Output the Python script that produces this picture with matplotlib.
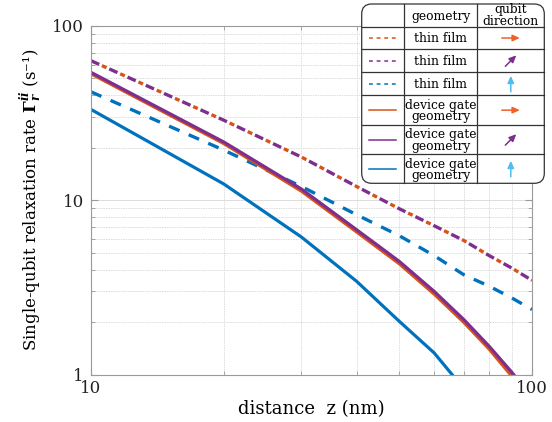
import numpy as np
import matplotlib
matplotlib.use("Agg")
from matplotlib import pyplot as plt
from matplotlib.patches import FancyBboxPatch, FancyArrowPatch
from matplotlib.lines import Line2D

# distances (nm)
distance = [10, 20, 30, 40, 50, 60, 70, 80, 90, 100]

# relaxation rates (1/s)
thin_film_x = [63.2, 28.8, 17.7, 12.0, 8.94, 7.14, 5.88, 4.81, 4.08, 3.47]
thin_film_xz = [63.2, 28.8, 17.7, 12.0, 8.94, 7.14, 5.88, 4.81, 4.08, 3.47]
thin_film_z = [41.9, 19.4, 12.0, 8.26, 6.26, 4.81, 3.74, 3.21, 2.75, 2.36]
gate_x = [53.3, 21.2, 11.3, 6.6, 4.33, 2.9, 2.0, 1.4, 0.98, 0.70]
gate_xz = [54.2, 21.6, 11.6, 6.78, 4.46, 3.0, 2.07, 1.45, 1.03, 0.74]
gate_z = [33.2, 12.4, 6.15, 3.43, 2.02, 1.33, 0.83, 0.55, 0.38, 0.27]

ORANGE = "#d95319"
PURPLE = "#7e2f8e"
BLUE = "#0072bd"
ARROW_ORANGE = "#f0602a"
ARROW_BLUE = "#4dbeee"
GRID = "#dcdcdc"
AXIS = "#9a9a9a"

SERIF = "DejaVu Serif"
plt.rcParams["font.family"] = [SERIF]
plt.rcParams["mathtext.fontset"] = "dejavuserif"

W, H = 552, 422
fig = plt.figure(figsize=(W / 100, H / 100), dpi=100)
ax = fig.add_axes([91 / W, 1 - 374.5 / H, (532 - 91) / W, (374.5 - 26) / H])

LW = 2.4
ax.plot(distance, thin_film_x, color=ORANGE, lw=LW, ls=(2.4, (1.5, 4.5)))
ax.plot(distance, thin_film_xz, color=PURPLE, lw=LW, ls=(0, (2.7, 3.3)))
ax.plot(distance, thin_film_z, color=BLUE, lw=LW, ls=(0, (3.4, 3.0)))
ax.plot(distance, gate_x, color=ORANGE, lw=2.5)
ax.plot(distance, gate_xz, color=PURPLE, lw=2.3)
ax.plot(distance, gate_z, color=BLUE, lw=2.3)

ax.set_xscale("log")
ax.set_yscale("log")
ax.set_xlim(10, 100)
ax.set_ylim(1, 100)
ax.set_xticks([10, 100])
ax.set_xticklabels(["10", "100"])
ax.set_yticks([1, 10, 100])
ax.set_yticklabels(["1", "10", "100"])
ax.xaxis.set_minor_formatter(plt.NullFormatter())
ax.yaxis.set_minor_formatter(plt.NullFormatter())

ax.grid(True, which="major", color=GRID, lw=0.7)
ax.grid(True, which="minor", color=GRID, lw=0.7, ls=(0, (1.5, 1.0)))
ax.set_axisbelow(True)
for s in ax.spines.values():
    s.set_color(AXIS)
    s.set_linewidth(0.8)
ax.tick_params(which="both", direction="in", top=True, right=True, color=AXIS,
               labelsize=12, labelcolor="#222222")
ax.tick_params(which="major", length=5)
ax.tick_params(which="minor", length=3)
ax.tick_params(axis="x", pad=4)
ax.tick_params(axis="y", pad=5)

ax.set_xlabel("distance  z (nm)", fontsize=13, labelpad=2)
ax.set_ylabel(r"Single-qubit relaxation rate $\mathbf{\Gamma}_{\mathbfit{r}}^{\mathbfit{ii}}$ (s⁻¹)",
              fontsize=12, labelpad=6)

# ---- table-style legend, drawn in pixel units (1 unit = 1 px)
tr = fig.dpi_scale_trans


def P(x, y):
    return (x / 100, (H - y) / 100)


left, right, top, bottom = 361.7, 544.3, 4, 183.3
col1, col2 = 404.3, 477.3
rows = [26.7, 49.3, 72.3, 95.3, 125, 154.3]
row_edges = [top] + rows + [bottom]

box = FancyBboxPatch(P(left, bottom), (right - left) / 100, (bottom - top) / 100,
                     boxstyle="round,pad=0,rounding_size=0.1", transform=tr,
                     facecolor="white", edgecolor="#333333", lw=0.9, zorder=5)
fig.patches.append(box)

for y in rows:
    fig.add_artist(Line2D([left / 100, right / 100], [(H - y) / 100] * 2, transform=tr,
                          color="#333333", lw=0.9, zorder=6))
for x in [col1, col2]:
    fig.add_artist(Line2D([x / 100] * 2, [(H - top) / 100, (H - bottom) / 100], transform=tr,
                          color="#333333", lw=0.9, zorder=6))

txt = dict(transform=tr, ha="center", va="center", fontsize=8.8, zorder=7,
           linespacing=0.85)
fig.text(*P((col1 + col2) / 2, (top + rows[0]) / 2 + 1), "geometry", **txt)
fig.text(*P((col2 + right) / 2, (top + rows[0]) / 2), "qubit\ndirection", **txt)

geometry = ["thin film", "thin film", "thin film",
            "device gate\ngeometry", "device gate\ngeometry", "device gate\ngeometry"]
colors = [ORANGE, PURPLE, BLUE, ORANGE, PURPLE, BLUE]
styles = [(0, (2.5, 2.5)), (0, (2.5, 2.5)), (0, (2.5, 2.5)), "-", "-", "-"]
arrow_colors = [ARROW_ORANGE, PURPLE, ARROW_BLUE, ARROW_ORANGE, PURPLE, ARROW_BLUE]
directions = ["x", "xz", "z", "x", "xz", "z"]

for i in range(6):
    yc = (row_edges[i + 1] + row_edges[i + 2]) / 2
    fig.add_artist(Line2D([369 / 100, 396 / 100], [(H - yc) / 100] * 2, transform=tr,
                          color=colors[i], lw=1.1, ls=styles[i], zorder=7))
    fig.text(*P((col1 + col2) / 2, yc + 1), geometry[i], **txt)
    xc = (col2 + right) / 2
    if directions[i] == "x":
        a, b = P(xc - 9, yc), P(xc + 9, yc)
    elif directions[i] == "xz":
        a, b = P(xc - 5.5, yc + 5.5), P(xc + 5.5, yc - 5.5)
    else:
        a, b = P(xc, yc + 8), P(xc, yc - 8)
    fig.add_artist(FancyArrowPatch(a, b, transform=tr, arrowstyle="-|>,head_length=3.5,head_width=1.6",
                                   color=arrow_colors[i], lw=1.1, mutation_scale=1.2,
                                   shrinkA=0, shrinkB=0, zorder=7))

fig.savefig("out.png", dpi=100)
